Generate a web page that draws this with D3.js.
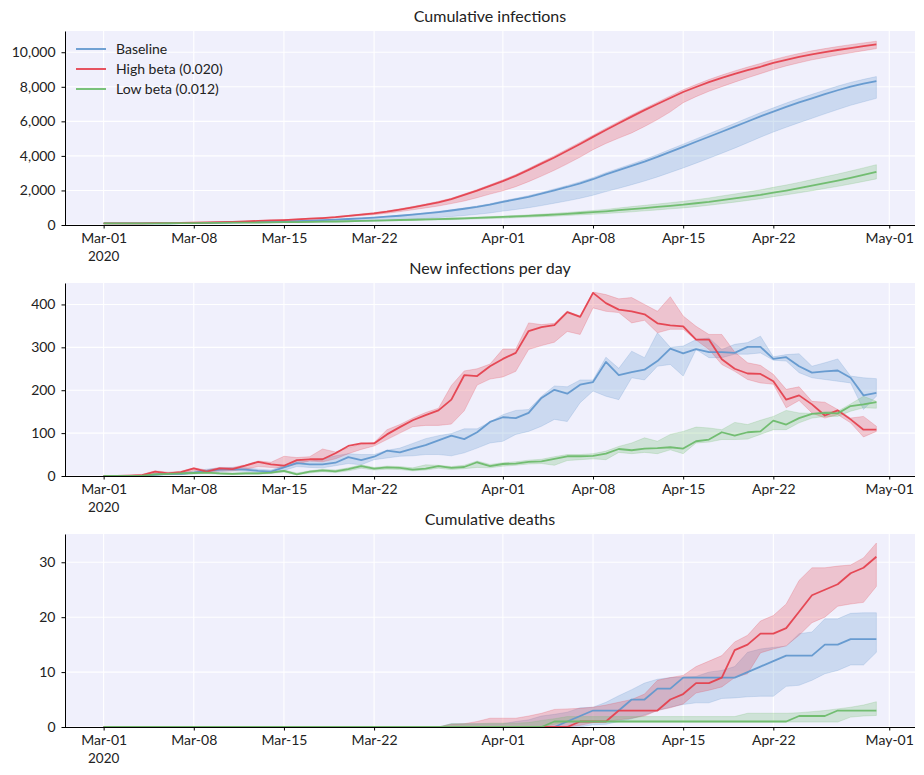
<!DOCTYPE html>
<html><head><meta charset="utf-8">
<script src="https://cdnjs.cloudflare.com/ajax/libs/d3/7.8.5/d3.min.js"></script>
<style>
html,body{margin:0;padding:0;background:#fff;}
svg text{font-family:Lato,"Open Sans",sans-serif;fill:#222;}
</style></head>
<body><svg id="c" width="924" height="775"></svg>
<script>
// ---------- DATA ----------
const startDate = new Date(Date.UTC(2020, 2, 1));
const endDate = new Date(Date.UTC(2020, 4, 1));
const seriesNames = ["Baseline", "High beta (0.020)", "Low beta (0.012)"];
const panelTitles = ["Cumulative infections", "New infections per day", "Cumulative deaths"];
const xTickDates = ["2020-03-01","2020-03-08","2020-03-15","2020-03-22","2020-04-01","2020-04-08","2020-04-15","2020-04-22","2020-05-01"];
const xTickLabels = ["Mar-01","Mar-08","Mar-15","Mar-22","Apr-01","Apr-08","Apr-15","Apr-22","May-01"];
const yearLabel = "2020";
const yTicks1 = [0,2000,4000,6000,8000,10000];
const yTicks2 = [0,100,200,300,400];
const yTicks3 = [0,10,20,30];
const yMax = [11230, 450, 35.15];

// Cumulative infections
const cumBase = [90,90,90,91,94,99,104,112,122,135,150,164,176,186,204,230,255,280,308,348,383,425,482,535,597,667,748,840,940,1045,1175,1340,1480,1630,1810,2010,2200,2410,2650,2930,3175,3420,3670,3940,4235,4525,4820,5110,5400,5690,5990,6290,6565,6840,7095,7335,7570,7800,8010,8180,8330];
const cumBaseLo = [88,88,88,89,91,95,98,104,112,122,133,139,141,143,147,156,166,174,185,198,214,234,268,300,337,380,430,487,550,617,699,804,898,1001,1124,1262,1397,1547,1723,1934,2127,2332,2547,2782,3041,3303,3581,3863,4153,4450,4762,5082,5383,5657,5924,6176,6435,6685,6929,7133,7330];
const cumBaseHi = [92,92,92,93,97,102,108,116,127,141,157,173,186,197,216,244,271,298,328,370,407,451,510,566,631,704,788,883,987,1096,1230,1400,1545,1700,1885,2090,2285,2500,2745,3030,3280,3535,3795,4075,4380,4680,4985,5285,5585,5885,6195,6500,6780,7060,7320,7565,7805,8040,8255,8430,8590];
const cumHigh = [90,90,91,93,103,109,118,136,146,164,180,204,237,264,288,325,364,403,456,526,602,678,775,889,1019,1161,1314,1492,1740,1990,2260,2540,2840,3190,3550,3910,4300,4690,5100,5500,5890,6275,6650,7005,7355,7700,7990,8270,8520,8750,8960,9160,9380,9560,9730,9880,10010,10130,10240,10350,10450];
const cumHighLo = [88,88,89,90,99,105,113,130,140,157,172,192,222,247,268,302,337,373,421,485,552,600,680,775,880,990,1100,1240,1390,1580,1790,1980,2220,2510,2830,3170,3540,3930,4360,4720,5030,5330,5700,6100,6550,7080,7430,7740,8010,8270,8520,8760,9000,9210,9390,9560,9700,9840,9970,10090,10210];
const cumHighHi = [92,92,93,96,106,113,123,142,153,172,189,215,250,279,305,344,385,427,483,557,637,716,817,935,1068,1213,1370,1552,1800,2055,2330,2615,2920,3275,3640,4005,4400,4790,5200,5600,5990,6375,6750,7110,7470,7830,8130,8420,8680,8920,9140,9350,9570,9760,9930,10080,10210,10330,10440,10540,10640];
const cumLow = [90,90,90,91,95,100,106,113,121,127,132,138,144,152,164,168,178,191,202,218,241,250,270,289,304,321,344,363,384,416,439,467,496,529,563,603,649,695,742,794,857,917,981,1046,1113,1177,1258,1343,1445,1539,1641,1745,1874,1994,2129,2274,2421,2567,2730,2897,3069];
const cumLowLo = [88,88,88,89,92,96,101,107,114,119,123,128,133,140,150,153,161,172,181,194,213,220,237,252,264,278,296,311,328,354,372,397,421,449,478,511,550,588,627,665,711,761,819,873,935,989,1063,1142,1235,1324,1419,1518,1640,1745,1863,1985,2111,2236,2375,2520,2670];
const cumLowHi = [94,94,94,96,100,105,112,119,128,134,140,146,153,162,175,180,191,205,217,235,260,270,292,313,330,349,375,397,421,457,483,514,548,587,627,674,727,782,838,902,986,1064,1138,1213,1291,1369,1465,1563,1683,1793,1913,2034,2180,2315,2466,2628,2790,2950,3125,3305,3490];

// New infections per day
const newBase = [0,0,0,1,3,5,5,8,12,15,16,15,12,10,20,30,27,27,31,44,37,45,59,55,64,72,83,94,86,102,126,137,135,147,182,201,192,213,219,266,235,242,248,268,297,286,296,289,289,287,301,301,273,277,256,241,244,246,229,188,194];
const newBaseLo = [0,0,0,0,1,3,3,5,8,10,12,11,9,7,13,22,20,19,24,29,26,38,42,46,47,50,50,47,54,65,77,81,97,104,116,132,127,171,198,186,178,229,224,256,260,233,295,276,276,284,284,287,270,268,241,229,225,221,217,155,186];
const newBaseHi = [0,0,1,2,5,7,8,11,16,19,20,19,16,14,25,36,34,40,47,52,50,50,60,65,76,87,94,99,110,110,126,143,153,155,186,210,208,224,224,277,251,291,276,334,300,303,318,322,295,307,311,326,278,283,285,256,264,273,233,229,227];
const newHigh = [0,0,1,2,10,6,9,18,10,18,16,24,33,27,24,37,39,39,53,70,76,76,97,114,130,142,153,178,235,233,256,273,287,338,347,352,382,371,427,403,388,384,377,356,351,349,318,318,272,250,239,238,221,178,188,167,141,153,132,108,108];
const newHighLo = [0,0,0,1,5,4,6,12,8,12,12,16,22,20,20,28,35,33,40,52,62,70,85,100,115,118,118,121,152,212,226,231,244,295,304,312,337,330,392,384,381,357,363,334,342,342,317,295,260,244,225,217,214,159,176,147,135,143,124,91,104];
const newHighHi = [0,1,2,4,12,9,11,19,14,20,20,26,35,32,46,43,45,63,56,66,74,78,108,120,135,148,158,211,245,250,261,296,296,357,353,356,384,373,429,423,413,416,400,384,418,373,349,330,330,289,264,258,237,202,208,174,172,155,135,139,116];
const newLow = [0,0,0,1,4,5,6,7,8,6,5,6,6,8,12,4,10,13,11,16,23,17,20,19,15,17,23,19,21,32,23,28,29,33,34,40,46,46,47,52,63,60,64,65,67,64,81,85,102,94,102,104,129,120,135,145,147,146,163,167,172];
const newLowLo = [0,0,0,0,2,3,4,5,6,4,3,4,4,6,9,3,7,10,8,12,18,14,16,15,12,14,18,15,17,20,19,23,25,28,29,25,36,38,40,38,55,52,55,52,61,52,77,79,85,85,86,97,108,108,124,135,139,139,151,159,158];
const newLowHi = [0,0,1,2,6,7,8,9,10,8,7,8,8,10,14,7,12,16,14,19,26,20,23,22,19,26,25,22,25,35,27,31,33,37,39,45,50,50,52,58,69,77,89,81,97,104,114,112,108,125,120,130,139,153,147,146,150,151,168,186,174];

// Cumulative deaths
const dthBase = [0,0,0,0,0,0,0,0,0,0,0,0,0,0,0,0,0,0,0,0,0,0,0,0,0,0,0,0,0,0,0,0,0,0,0,0,1,2,3,3,3,5,5,7,7,9,9,9,9,9,10,11,12,13,13,13,15,15,16,16,16];
const dthBaseLo = [0,0,0,0,0,0,0,0,0,0,0,0,0,0,0,0,0,0,0,0,0,0,0,0,0,0,0,0,0,0,0,0,0,0,0,0,0,0,0.4,0.5,1,1.5,2.2,3,3.6,4.1,4.4,4.4,5.2,5.3,5.5,5.6,5.6,7.4,7.6,8.5,9.7,10.3,11.3,11.3,13.6];
const dthBaseHi = [0,0,0,0,0,0,0,0,0,0,0,0,0,0,0,0,0,0,0,0,0,0,0,0,0,0,0,0.6,0.6,0.6,0.6,0.6,1,1.3,2,2.3,2.7,3.5,3.6,4.5,5.7,6.8,8,8.7,9,9.1,9.2,10,10.3,11,13.6,14.2,14.5,14.7,17,17.3,19.7,19.7,20.7,20.8,20.8];
const dthHigh = [0,0,0,0,0,0,0,0,0,0,0,0,0,0,0,0,0,0,0,0,0,0,0,0,0,0,0,0,0,0,0,0,0,0,0,0,0,1,1,1,3,3,3,3,5,6,8,8,9,14,15,17,17,18,21,24,25,26,28,29,31];
const dthHighLo = [0,0,0,0,0,0,0,0,0,0,0,0,0,0,0,0,0,0,0,0,0,0,0,0,0,0,0,0,0,0,0,0,0,0,0,0,0,0.3,0.8,1,1.3,1.6,2,3,3.5,4.2,6.2,6.7,7.3,9,9.7,13.5,14.2,14.8,16.7,19,20,22,22.4,22.7,25.6];
const dthHighHi = [0,0,0,0,0,0,0,0,0,0,0,0,0,0,0,0,0,0,0,0,0,0,0,0,0,0,0,0.5,0.6,1,1.6,1.6,1.6,2,2.5,3.2,3.3,3.4,3.6,4,4.5,5,6,8.5,9,9.4,11,12,13,15.5,16.7,19.3,20.3,22.4,26.7,29,29,29.3,29.5,30.8,33.5];
const dthLow = [0,0,0,0,0,0,0,0,0,0,0,0,0,0,0,0,0,0,0,0,0,0,0,0,0,0,0,0,0,0,0,0,0,0,0,1,1,1,1,1,1,1,1,1,1,1,1,1,1,1,1,1,1,1,2,2,2,3,3,3,3];
const dthLowLo = [0,0,0,0,0,0,0,0,0,0,0,0,0,0,0,0,0,0,0,0,0,0,0,0,0,0,0,0,0,0,0,0,0,0,0,0.5,0.9,0.9,0.9,0.9,0.9,0.9,0.9,0.9,0.9,0.9,0.9,0.9,0.9,0.9,0.9,0.9,0.9,0.9,0.9,0.9,0.9,0.9,1.8,2,2.1];
const dthLowHi = [0,0,0,0,0,0,0,0,0,0,0,0,0,0,0,0,0,0,0,0,0,0,0,0,0,0,0,0.6,0.6,0.6,0.7,0.7,0.7,0.8,1.2,1.5,1.9,1.9,1.9,1.9,1.9,1.9,1.9,1.9,1.9,1.9,1.9,1.9,1.9,1.9,2.5,2.5,2.5,2.5,2.6,2.8,3,3.3,3.6,4,4.6];

const colors = ["#6298ce", "#e5414e", "#6dbb6b"];

// ---------- DRAW ----------
const dates = d3.utcDays(startDate, endDate);
const svg = d3.select("#c");
const L = 65, R = 915;
const panels = [
  {top: 31, bottom: 225, ticks: yTicks1, fmt: d3.format(","), max: yMax[0],
   series: [[cumBase,cumBaseLo,cumBaseHi],[cumHigh,cumHighLo,cumHighHi],[cumLow,cumLowLo,cumLowHi]]},
  {top: 283, bottom: 476, ticks: yTicks2, fmt: d3.format("d"), max: yMax[1],
   series: [[newBase,newBaseLo,newBaseHi],[newHigh,newHighLo,newHighHi],[newLow,newLowLo,newLowHi]]},
  {top: 534, bottom: 727, ticks: yTicks3, fmt: d3.format("d"), max: yMax[2],
   series: [[dthBase,dthBaseLo,dthBaseHi],[dthHigh,dthHighLo,dthHighHi],[dthLow,dthLowLo,dthLowHi]]}
];
const x = d3.scaleUtc()
  .domain([d3.utcDay.offset(startDate, -3), d3.utcDay.offset(startDate, 63)])
  .range([L, R]);
const tickDates = xTickDates.map(s => new Date(s + "T00:00:00Z"));

panels.forEach((p, pi) => {
  const y = d3.scaleLinear().domain([0, p.max]).range([p.bottom, p.top]);
  const g = svg.append("g");
  g.append("rect").attr("x", L).attr("y", p.top).attr("width", R - L).attr("height", p.bottom - p.top).attr("fill", "#f0f0fc");
  // grid
  g.selectAll(".vg").data(tickDates).join("line")
    .attr("x1", d => x(d)).attr("x2", d => x(d)).attr("y1", p.top).attr("y2", p.bottom)
    .attr("stroke", "#fff").attr("stroke-width", 1.1);
  g.selectAll(".hg").data(p.ticks).join("line")
    .attr("x1", L).attr("x2", R).attr("y1", d => y(d)).attr("y2", d => y(d))
    .attr("stroke", "#fff").attr("stroke-width", 1.1);
  // bands
  p.series.forEach((s, si) => {
    const area = d3.area().x((d, i) => x(dates[i])).y0((d, i) => y(s[1][i])).y1((d, i) => y(s[2][i]));
    g.append("path").datum(s[0]).attr("d", area)
      .attr("fill", colors[si]).attr("fill-opacity", 0.26)
      .attr("stroke", colors[si]).attr("stroke-opacity", 0.22).attr("stroke-width", 1);
  });
  // lines
  p.series.forEach((s, si) => {
    const line = d3.line().x((d, i) => x(dates[i])).y(d => y(d));
    g.append("path").datum(s[0]).attr("d", line)
      .attr("fill", "none").attr("stroke", colors[si]).attr("stroke-width", 1.8)
      .attr("stroke-opacity", 0.95).attr("stroke-linejoin", "round");
  });
  // axes
  const ya = d3.axisLeft(y).tickValues(p.ticks).tickFormat(p.fmt).tickSize(3.5).tickPadding(6).tickSizeOuter(0);
  const yg = g.append("g").attr("transform", `translate(${L},0)`).call(ya);
  yg.select(".domain").attr("stroke", "#000").attr("stroke-width", 1);
  yg.selectAll("text").style("font-size", "14px").style("font-family", "Lato");
  const xa = d3.axisBottom(x).tickValues(tickDates).tickFormat((d, i) => xTickLabels[i]).tickSize(3.5).tickPadding(5).tickSizeOuter(0);
  const xg = g.append("g").attr("transform", `translate(0,${p.bottom})`).call(xa);
  xg.select(".domain").attr("d", `M${L},0.5H${R}`).attr("stroke", "#000").attr("stroke-width", 1);
  xg.selectAll("text").style("font-size", "14px").style("font-family", "Lato");
  // year label under the first tick
  g.append("text").attr("x", x(tickDates[0])).attr("y", p.bottom + 35.5)
    .attr("text-anchor", "middle").style("font-size", "13.5px").text(yearLabel);
  // title
  svg.append("text").attr("x", (L + R) / 2).attr("y", p.top - 9).attr("text-anchor", "middle")
    .style("font-size", "16px").text(panelTitles[pi]);
});

// legend
const lg = svg.append("g");
seriesNames.forEach((n, i) => {
  const yy = 49 + i * 20;
  lg.append("line").attr("x1", 76).attr("x2", 106).attr("y1", yy).attr("y2", yy)
    .attr("stroke", colors[i]).attr("stroke-width", 1.8);
  lg.append("text").attr("x", 116).attr("y", yy + 5).style("font-size", "14px").text(n);
});
</script></body></html>
